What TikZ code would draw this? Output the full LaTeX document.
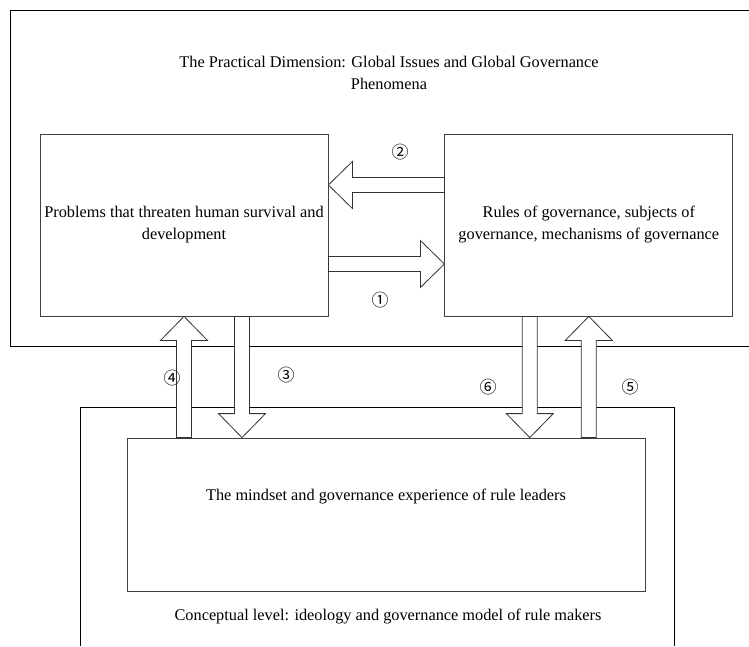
\documentclass[tikz,border=0pt]{standalone}
\usepackage{fontspec}
\setmainfont{Liberation Serif}
\newfontfamily\circfont{Noto Sans CJK SC}
\usetikzlibrary{calc,positioning}

\begin{document}
\begin{tikzpicture}[x=1pt,y=-1pt,
  every node/.style={font=\fontsize{16.3}{22}\selectfont, align=center},
  frame/.style={line width=1pt},
  box/.style={draw=black!75, line width=0.8pt, minimum width=288pt, minimum height=182pt, inner sep=0pt},
  num/.style={font=\circfont\fontsize{17}{17}\selectfont},
  fatarrow/.style={draw=black!80, line width=0.8pt, fill=white, to path={
    ($(\tikztotarget)!24pt!(\tikztostart)$) coordinate (fabase)
    ($(\tikztostart)!7.5pt!90:(\tikztotarget)$)
    -- ($(fabase)!7.5pt!-90:(\tikztostart)$)
    -- ($(fabase)!23.5pt!-90:(\tikztostart)$)
    -- (\tikztotarget)
    -- ($(fabase)!23.5pt!90:(\tikztostart)$)
    -- ($(fabase)!7.5pt!90:(\tikztostart)$)
    -- ($(\tikztostart)!7.5pt!-90:(\tikztotarget)$)
    -- cycle}}]
\useasboundingbox (0,0) rectangle (749,646);

% the two levels
\draw[frame] (749,10) -- (10,10) -- (10,346) -- (749,346);
\draw[frame] (80,646) -- (80,407) -- (674,407) -- (674,646);
\node (practical) at (389,73) {The Practical Dimension: Global Issues and Global Governance\\Phenomena};
\node (conceptual) at (388,617) {Conceptual level: ideology and governance model of rule makers};

\node[box] (problems) at (184,225) {Problems that threaten human survival and\\development};
\node[box, right=116pt of problems] (rules) {Rules of governance, subjects of\\governance, mechanisms of governance};
\node[box, minimum width=518pt, minimum height=153pt] (mindset) at (386,514.5) {};
\node (mindtxt) at (386,497) {The mindset and governance experience of rule leaders};

% block arrows
\draw[fatarrow] ([yshift=-39pt]problems.east) to ([yshift=-39pt]rules.west);
\draw[fatarrow] ([yshift=40pt]rules.west) to ([yshift=40pt]problems.east);
\draw[fatarrow] ([xshift=58pt]problems.south) to ([xshift=58pt]problems.south |- mindset.north);
\draw[fatarrow] (mindset.north -| problems.south) to (problems.south);
\draw[fatarrow] (mindset.north -| rules.south) to (rules.south);
\draw[fatarrow] ([xshift=-59pt]rules.south) to ([xshift=-59pt]rules.south |- mindset.north);

\node[num] (n1) at (380,300) {①};
\node[num] (n2) at (400,152) {②};
\node[num] (n3) at (286,375) {③};
\node[num] (n4) at (172,378) {④};
\node[num] (n5) at (630,387) {⑤};
\node[num] (n6) at (488,387) {⑥};

\end{tikzpicture}
\end{document}
